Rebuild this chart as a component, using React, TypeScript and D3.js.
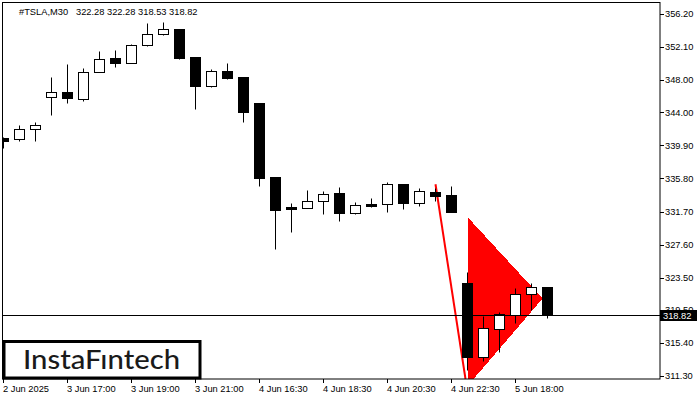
import React from 'react';
import * as d3 from 'd3';

const opens = [340.82, 340.66, 341.90, 345.94, 346.49, 345.69, 348.97, 350.71, 350.16, 352.32, 353.68, 354.34, 350.87, 347.31, 349.13, 348.39, 345.16, 335.98, 332.30, 332.17, 332.97, 334.00, 331.55, 332.63, 332.60, 335.11, 332.79, 334.12, 333.75, 322.80, 313.69, 317.17, 318.90, 321.43, 322.28];
const highs = [340.90, 342.43, 342.84, 348.42, 350.00, 349.46, 351.61, 351.73, 352.48, 355.05, 355.21, 354.34, 350.87, 349.38, 350.16, 348.39, 345.16, 335.98, 332.76, 334.37, 334.22, 334.78, 332.88, 333.38, 335.32, 335.11, 334.62, 334.62, 334.87, 324.16, 318.78, 319.24, 322.21, 322.80, 322.28];
const lows = [339.58, 340.48, 340.48, 343.71, 345.12, 345.45, 348.95, 349.66, 350.08, 352.19, 353.65, 350.66, 344.45, 347.18, 348.17, 342.80, 334.87, 327.05, 329.16, 332.10, 331.39, 330.56, 331.43, 332.30, 331.68, 332.05, 332.42, 333.04, 331.64, 312.04, 313.20, 314.28, 317.91, 319.48, 318.53];
const closes = [340.45, 341.90, 342.39, 346.49, 345.82, 348.97, 350.58, 350.16, 352.35, 353.68, 354.30, 350.78, 347.31, 349.13, 348.30, 344.08, 335.90, 331.93, 332.05, 332.97, 333.84, 331.55, 332.51, 332.38, 335.08, 332.79, 334.21, 333.63, 331.64, 313.69, 317.21, 318.99, 321.43, 322.30, 318.82];

const xTickIdx = [0, 4, 8, 12, 16, 20, 24, 28, 32];
const xTickLabels = ['2 Jun 2025', '3 Jun 17:00', '3 Jun 19:00', '3 Jun 21:00', '4 Jun 16:30', '4 Jun 18:30', '4 Jun 20:30', '4 Jun 22:30', '5 Jun 18:00'];
const yTicks = [356.2, 352.1, 348.0, 344.0, 339.9, 335.8, 331.7, 327.6, 323.5, 319.5, 315.4, 311.3];
const lastPrice = 318.82;
const poleIdx = [27, 28.875];
const polePrice = [335.08, 310.93];
const pennantIdx = [29, 33.69, 29];
const pennantPrice = [331.02, 320.91, 310.06];
const titleSymbol = '#TSLA,M30';
const titleOHLC = '322.28 322.28 318.53 318.82';
const logoText = 'InstaFıntech';

const W = 700, H = 400;
const L = 3, R = 660, T = 3, B = 379;
const FONT = '"Liberation Sans", Arial, sans-serif';

export default function App() {
  const x = d3.scaleLinear().domain([0, 34]).range([3.5, 547.5]);
  const y = d3.scaleLinear().domain([311.3, 356.2]).range([376, 14]);
  const py = (v: number) => Math.round(y(v)) + 0.5;

  const poly = d3.line<number>()
    .x((_, i) => x(pennantIdx[i]))
    .y((v) => y(v));
  const poleLine = d3.line<number>()
    .x((_, i) => x(poleIdx[i]))
    .y((v) => y(v));

  return (
    <svg width={W} height={H} style={{ position: 'absolute', left: 0, top: 0, background: '#fff' }}>
      <defs>
        <clipPath id="plot">
          <rect x={L} y={T} width={R - L} height={B - T} />
        </clipPath>
      </defs>
      <rect x={0} y={0} width={W} height={H} fill="#fff" />
      <g clipPath="url(#plot)">
        <path d={poly(pennantPrice) + 'Z'} fill="#ff0000" shapeRendering="crispEdges" />
        <path d={poleLine(polePrice) || ''} stroke="#ff0000" strokeWidth={2} fill="none" />
        {opens.map((o, i) => {
          const c = closes[i];
          const cx = x(i);
          const bull = c >= o;
          const top = py(Math.max(o, c));
          const bot = Math.max(py(Math.min(o, c)), top + 1);
          return (
            <g key={i}>
              <line x1={cx} x2={cx} y1={py(highs[i])} y2={py(lows[i])} stroke="#000" strokeWidth={1} />
              <rect x={cx - 5} y={top} width={10} height={bot - top} fill={bull ? '#fff' : '#000'} stroke="#000" strokeWidth={1} />
            </g>
          );
        })}
        <line x1={L} x2={R} y1={py(lastPrice)} y2={py(lastPrice)} stroke="#000" strokeWidth={1} />
      </g>
      <rect x={2.5} y={2.5} width={R - 2.5} height={B - 2.5} fill="none" stroke="#000" strokeWidth={1} />
      {yTicks.map((v) => (
        <g key={v}>
          <line x1={R} x2={R + 4} y1={py(v)} y2={py(v)} stroke="#000" />
          <text x={665} y={y(v)} dy="0.35em" fontFamily={FONT} fontSize={9.3} fill="#000">{v.toFixed(2)}</text>
        </g>
      ))}
      <rect x={R} y={Math.round(y(lastPrice)) - 5} width={37} height={11} fill="#000" />
      <text x={663} y={y(lastPrice)} dy="0.35em" fontFamily={FONT} fontSize={9.3} fill="#fff">{lastPrice.toFixed(2)}</text>
      {xTickIdx.map((idx, k) => (
        <g key={idx}>
          <line x1={x(idx)} x2={x(idx)} y1={B} y2={B + 4} stroke="#000" />
          <text x={x(idx) - 0.5} y={392} fontFamily={FONT} fontSize={9.3} fill="#000">{xTickLabels[k]}</text>
        </g>
      ))}
      <text x={19} y={14.5} fontFamily={FONT} fontSize={9.3} fill="#000">{titleSymbol}</text>
      <text x={76} y={14.5} fontFamily={FONT} fontSize={9.3} fill="#000">{titleOHLC}</text>
      <rect x={4} y={341.5} width={196} height={36.5} fill="#fff" stroke="#000" strokeWidth={3} />
      <text x={23} y={368.5} fontFamily="Lato, 'Open Sans', sans-serif" fontWeight={500} fontSize={26.5} fill="#1a1a1a" textLength={157} lengthAdjust="spacingAndGlyphs">{logoText}</text>
    </svg>
  );
}
